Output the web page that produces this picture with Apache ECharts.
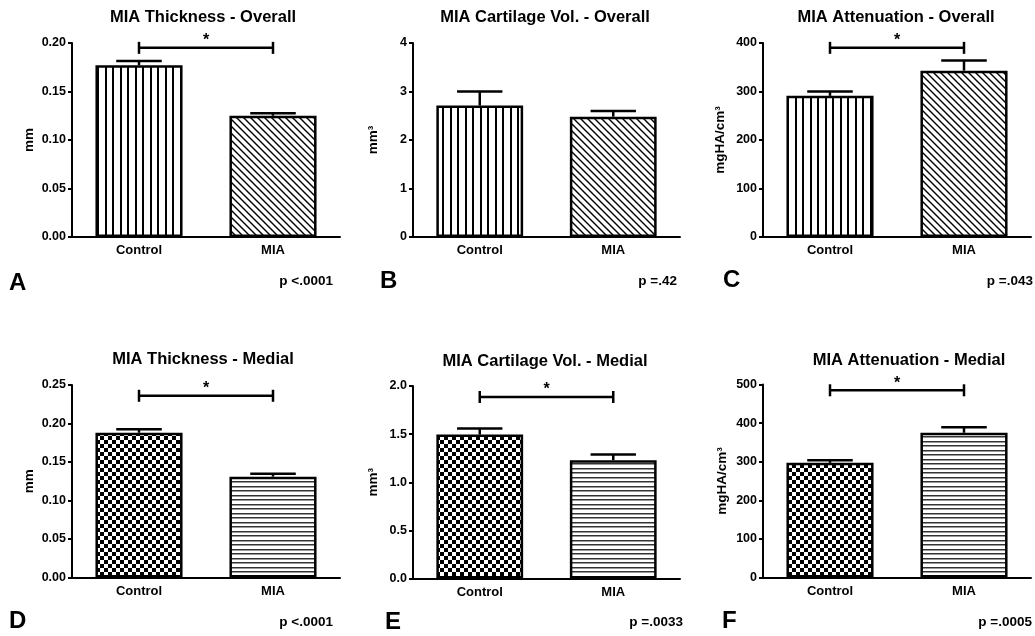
<!DOCTYPE html>
<html>
<head>
<meta charset="utf-8">
<script src="https://cdn.jsdelivr.net/npm/echarts@6/dist/echarts.min.js"></script>
<style>
html,body{margin:0;padding:0;background:#fff;}
#chart{width:1035px;height:636px;}
</style>
</head>
<body>
<div id="chart"></div>
<script>
// ---------- DATA ----------
const categories = ['Control', 'MIA'];

const thicknessOverallMean = [0.177, 0.125];
const thicknessOverallErr  = [0.0045, 0.0025];
const cartilageOverallMean = [2.71, 2.48];
const cartilageOverallErr  = [0.29, 0.12];
const attenuationOverallMean = [291, 343];
const attenuationOverallErr  = [9, 21];

const thicknessMedialMean = [0.188, 0.131];
const thicknessMedialErr  = [0.0044, 0.0039];
const cartilageMedialMean = [1.495, 1.229];
const cartilageMedialErr  = [0.063, 0.059];
const attenuationMedialMean = [297, 375];
const attenuationMedialErr  = [7, 14];

const panelTitles = [
  'MIA Thickness - Overall', 'MIA Cartilage Vol. - Overall', 'MIA Attenuation - Overall',
  'MIA Thickness - Medial', 'MIA Cartilage Vol. - Medial', 'MIA Attenuation - Medial'
];
const panelLetters = ['A', 'B', 'C', 'D', 'E', 'F'];
const pValues = ['p <.0001', 'p =.42', 'p =.043', 'p <.0001', 'p =.0033', 'p =.0005'];
const yNames = ['mm', 'mm³', 'mgHA/cm³', 'mm', 'mm³', 'mgHA/cm³'];
const yMax = [0.20, 4, 400, 0.25, 2.0, 500];
const yInterval = [0.05, 1, 100, 0.05, 0.5, 100];
const yDecimals = [2, 0, 0, 2, 1, 0];
// significance bracket height (null = none)
const sigLevel = [0.195, null, 390, 0.236, 1.886, 485];
const sigMark = '*';

const means = [thicknessOverallMean, cartilageOverallMean, attenuationOverallMean,
               thicknessMedialMean, cartilageMedialMean, attenuationMedialMean];
const errs  = [thicknessOverallErr, cartilageOverallErr, attenuationOverallErr,
               thicknessMedialErr, cartilageMedialErr, attenuationMedialErr];

// ---------- LAYOUT / STYLE ----------
const FONT = '"Liberation Sans", Arial, sans-serif';
const grids = [
  {left: 72,  top: 43,  width: 268, height: 194},
  {left: 413, top: 43,  width: 267, height: 194},
  {left: 763, top: 43,  width: 268, height: 194},
  {left: 72,  top: 385, width: 268, height: 192.5},
  {left: 413, top: 386, width: 267, height: 192.5},
  {left: 763, top: 384.5, width: 268, height: 193}
];
const nameGaps = [36, 33, 36, 36, 33, 34];
const titlePos = [[203, 17], [545, 17], [896, 17], [203, 359], [545, 361], [909, 360]];
const letterPos = [[9, 283], [380, 281], [723, 280], [9, 621], [385, 622], [722, 621]];
const pPos = [[333, 281], [677, 281], [1033, 281], [333, 622], [683, 622], [1032, 622]];

function makePattern(kind) {
  const c = document.createElement('canvas');
  let ctx;
  if (kind === 'vstripe') {
    c.width = 15; c.height = 4; ctx = c.getContext('2d');
    ctx.fillStyle = '#fff'; ctx.fillRect(0, 0, 15, 4);
    ctx.fillStyle = '#000'; ctx.fillRect(0, 0, 2, 4); ctx.fillRect(7, 0, 2, 4);
  } else if (kind === 'diag') {
    c.width = 7; c.height = 7; ctx = c.getContext('2d');
    ctx.fillStyle = '#fff'; ctx.fillRect(0, 0, 7, 7);
    ctx.strokeStyle = '#000'; ctx.lineWidth = 1.4;
    ctx.beginPath();
    ctx.moveTo(-1, -1); ctx.lineTo(8, 8);
    ctx.moveTo(-8, -1); ctx.lineTo(1, 8);
    ctx.moveTo(6, -1); ctx.lineTo(15, 8);
    ctx.stroke();
  } else if (kind === 'checker') {
    c.width = 8; c.height = 8; ctx = c.getContext('2d');
    ctx.fillStyle = '#fff'; ctx.fillRect(0, 0, 8, 8);
    ctx.fillStyle = '#000'; ctx.fillRect(0, 0, 4, 4); ctx.fillRect(4, 4, 4, 4);
  } else {
    c.width = 4; c.height = 9; ctx = c.getContext('2d');
    ctx.fillStyle = '#fff'; ctx.fillRect(0, 0, 4, 9);
    ctx.fillStyle = '#333'; ctx.fillRect(0, 0, 4, 1); ctx.fillRect(0, 4, 4, 1);
    ctx.fillStyle = '#999'; ctx.fillRect(0, 1, 4, 1); ctx.fillRect(0, 5, 4, 1);
  }
  return {image: c, repeat: 'repeat'};
}
const topPatterns = [makePattern('vstripe'), makePattern('diag')];
const bottomPatterns = [makePattern('checker'), makePattern('hstripe')];

const option = {
  animation: false,
  backgroundColor: '#fff',
  grid: grids,
  xAxis: [],
  yAxis: [],
  series: [],
  graphic: []
};

for (let i = 0; i < 6; i++) {
  const pats = i < 3 ? topPatterns : bottomPatterns;
  option.xAxis.push({
    type: 'category', gridIndex: i, data: categories,
    axisLine: {lineStyle: {color: '#000', width: 2}},
    axisTick: {alignWithLabel: true, length: 5, lineStyle: {color: '#000', width: 2}},
    axisLabel: {color: '#000', fontWeight: 'bold', fontSize: 13, fontFamily: FONT, margin: 7},
    splitLine: {show: false}
  });
  const dec = yDecimals[i];
  option.yAxis.push({
    type: 'value', gridIndex: i, min: 0, max: yMax[i], interval: yInterval[i],
    axisLine: {show: true, lineStyle: {color: '#000', width: 2}},
    axisTick: {show: true, length: 4, lineStyle: {color: '#000', width: 2}},
    axisLabel: {color: '#000', fontWeight: 'bold', fontSize: 12.5, fontFamily: FONT, margin: 6,
      formatter: v => Number(v).toFixed(dec)},
    splitLine: {show: false},
    name: yNames[i], nameLocation: 'middle', nameGap: nameGaps[i],
    nameTextStyle: {color: '#000', fontWeight: 'bold', fontSize: 13.5, fontFamily: FONT}
  });
  option.series.push({
    type: 'bar', xAxisIndex: i, yAxisIndex: i, barWidth: '65%',
    data: means[i].map((v, j) => ({value: v, itemStyle: {color: pats[j]}})),
    itemStyle: {borderColor: '#000', borderWidth: 2.5}
  });
  option.series.push({
    type: 'custom', xAxisIndex: i, yAxisIndex: i, z: 3,
    data: categories.map((c, j) => [j, means[i][j], errs[i][j]]),
    encode: {x: 0, y: 1},
    renderItem: function (params, api) {
      const x = api.value(0), m = api.value(1), e = api.value(2);
      const p0 = api.coord([x, m]);
      const p1 = api.coord([x, m + e]);
      const hw = api.size([1, 0])[0] * 0.17;
      return {type: 'group', children: [
        {type: 'line', shape: {x1: p0[0], y1: p0[1], x2: p1[0], y2: p1[1]}, style: {stroke: '#000', lineWidth: 2.5}},
        {type: 'line', shape: {x1: p1[0] - hw, y1: p1[1], x2: p1[0] + hw, y2: p1[1]}, style: {stroke: '#000', lineWidth: 2.5}}
      ]};
    }
  });
  if (sigLevel[i] !== null) {
    option.series.push({
      type: 'custom', xAxisIndex: i, yAxisIndex: i, z: 3,
      data: [[0, 1, sigLevel[i]]],
      encode: {x: [0, 1], y: 2},
      renderItem: function (params, api) {
        const a = api.coord([api.value(0), api.value(2)]);
        const b = api.coord([api.value(1), api.value(2)]);
        const st = {stroke: '#000', lineWidth: 2.5};
        return {type: 'group', children: [
          {type: 'line', shape: {x1: a[0], y1: a[1], x2: b[0], y2: b[1]}, style: st},
          {type: 'line', shape: {x1: a[0], y1: a[1] - 6, x2: a[0], y2: a[1] + 6}, style: st},
          {type: 'line', shape: {x1: b[0], y1: b[1] - 6, x2: b[0], y2: b[1] + 6}, style: st},
          {type: 'text', x: (a[0] + b[0]) / 2, y: a[1] - 7,
            style: {text: sigMark, fill: '#000', font: 'bold 16px ' + FONT, textAlign: 'center', textVerticalAlign: 'middle'}}
        ]};
      }
    });
  }
  option.graphic.push({
    type: 'text', x: titlePos[i][0], y: titlePos[i][1],
    style: {text: panelTitles[i], fill: '#000', font: 'bold 16.5px ' + FONT, textAlign: 'center', textVerticalAlign: 'middle'}
  });
  option.graphic.push({
    type: 'text', x: letterPos[i][0], y: letterPos[i][1],
    style: {text: panelLetters[i], fill: '#000', font: 'bold 24px ' + FONT, textAlign: 'left', textVerticalAlign: 'middle'}
  });
  option.graphic.push({
    type: 'text', x: pPos[i][0], y: pPos[i][1],
    style: {text: pValues[i], fill: '#000', font: 'bold 13.5px ' + FONT, textAlign: 'right', textVerticalAlign: 'middle'}
  });
}

const chart = echarts.init(document.getElementById('chart'), null, {renderer: 'canvas'});
chart.setOption(option);
</script>
</body>
</html>
